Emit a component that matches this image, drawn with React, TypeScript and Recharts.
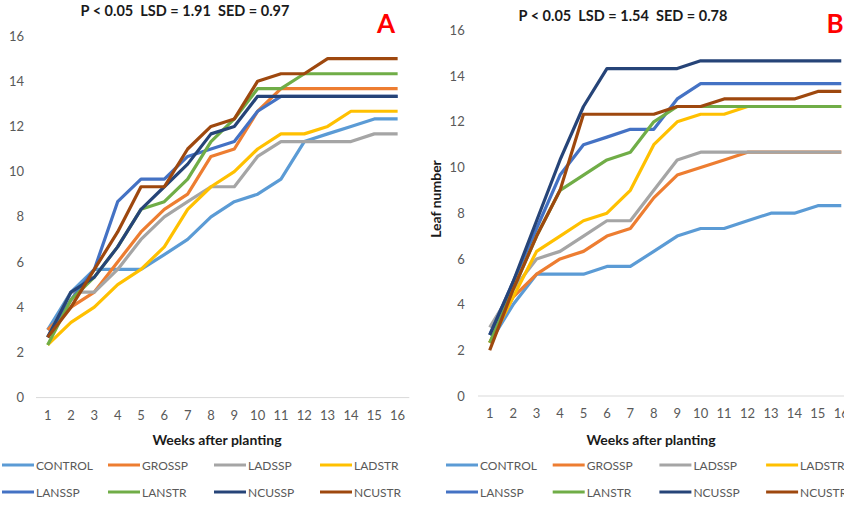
import React from 'react';
import { LineChart, Line, XAxis, YAxis } from 'recharts';

const weeks = ['1', '2', '3', '4', '5', '6', '7', '8', '9', '10', '11', '12', '13', '14', '15', '16'];
const seriesNames = ['CONTROL', 'GROSSP', 'LADSSP', 'LADSTR', 'LANSSP', 'LANSTR', 'NCUSSP', 'NCUSTR'];
const yTicks = [0, 2, 4, 6, 8, 10, 12, 14, 16];
const titleA = 'P < 0.05\u00A0\u00A0LSD = 1.91\u00A0\u00A0SED = 0.97';
const titleB = 'P < 0.05\u00A0\u00A0LSD = 1.54\u00A0\u00A0SED = 0.78';

// Chart A
const CONTROL_A = [3.0, 4.67, 5.67, 5.67, 5.67, 6.33, 7.0, 8.0, 8.67, 9.0, 9.67, 11.33, 11.67, 12.0, 12.33, 12.33];
const GROSSP_A = [3.0, 4.0, 4.67, 6.0, 7.33, 8.33, 9.0, 10.67, 11.0, 12.67, 13.67, 13.67, 13.67, 13.67, 13.67, 13.67];
const LADSSP_A = [2.67, 4.67, 4.67, 5.67, 7.0, 8.0, 8.67, 9.33, 9.33, 10.67, 11.33, 11.33, 11.33, 11.33, 11.67, 11.67];
const LADSTR_A = [2.33, 3.33, 4.0, 5.0, 5.67, 6.67, 8.33, 9.33, 10.0, 11.0, 11.67, 11.67, 12.0, 12.67, 12.67, 12.67];
const LANSSP_A = [2.67, 4.33, 5.67, 8.67, 9.67, 9.67, 10.67, 11.0, 11.33, 12.67, 13.33, 13.33, 13.33, 13.33, 13.33, 13.33];
const LANSTR_A = [2.33, 4.33, 5.33, 6.67, 8.33, 8.67, 9.67, 11.33, 12.33, 13.67, 13.67, 14.33, 14.33, 14.33, 14.33, 14.33];
const NCUSSP_A = [2.67, 4.67, 5.33, 6.67, 8.33, 9.33, 10.33, 11.67, 12.0, 13.33, 13.33, 13.33, 13.33, 13.33, 13.33, 13.33];
const NCUSTR_A = [2.67, 4.0, 5.67, 7.33, 9.33, 9.33, 11.0, 12.0, 12.33, 14.0, 14.33, 14.33, 15.0, 15.0, 15.0, 15.0];

// Chart B
const CONTROL_B = [2.33, 4.0, 5.33, 5.33, 5.33, 5.67, 5.67, 6.33, 7.0, 7.33, 7.33, 7.67, 8.0, 8.0, 8.33, 8.33];
const GROSSP_B = [2.33, 4.33, 5.33, 6.0, 6.33, 7.0, 7.33, 8.67, 9.67, 10.0, 10.33, 10.67, 10.67, 10.67, 10.67, 10.67];
const LADSSP_B = [3.0, 4.67, 6.0, 6.33, 7.0, 7.67, 7.67, 9.0, 10.33, 10.67, 10.67, 10.67, 10.67, 10.67, 10.67, 10.67];
const LADSTR_B = [2.33, 4.33, 6.33, 7.0, 7.67, 8.0, 9.0, 11.0, 12.0, 12.33, 12.33, 12.67, 12.67, 12.67, 12.67, 12.67];
const LANSSP_B = [2.67, 5.0, 7.33, 9.67, 11.0, 11.33, 11.67, 11.67, 13.0, 13.67, 13.67, 13.67, 13.67, 13.67, 13.67, 13.67];
const LANSTR_B = [2.33, 4.67, 7.0, 9.0, 9.67, 10.33, 10.67, 12.0, 12.67, 12.67, 12.67, 12.67, 12.67, 12.67, 12.67, 12.67];
const NCUSSP_B = [2.67, 5.0, 7.67, 10.33, 12.67, 14.33, 14.33, 14.33, 14.33, 14.67, 14.67, 14.67, 14.67, 14.67, 14.67, 14.67];
const NCUSTR_B = [2.0, 4.67, 7.0, 9.0, 12.33, 12.33, 12.33, 12.33, 12.67, 12.67, 13.0, 13.0, 13.0, 13.0, 13.33, 13.33];

const valuesA = [CONTROL_A, GROSSP_A, LADSSP_A, LADSTR_A, LANSSP_A, LANSTR_A, NCUSSP_A, NCUSTR_A];
const valuesB = [CONTROL_B, GROSSP_B, LADSSP_B, LADSTR_B, LANSSP_B, LANSTR_B, NCUSSP_B, NCUSTR_B];

const colors = ['#5B9BD5', '#ED7D31', '#A5A5A5', '#FFC000', '#4472C4', '#70AD47', '#264478', '#9E480E'];
const FONT = 'Lato, "Open Sans", sans-serif';

function buildRows(values: number[][]) {
  return weeks.map((w, i) => {
    const row: Record<string, any> = { week: w };
    seriesNames.forEach((n, j) => {
      row[n] = values[j][i];
    });
    return row;
  });
}

const dataA = buildRows(valuesA);
const dataB = buildRows(valuesB);

function Chart({ data, width, margin, yWidth, yMargin, pad }: any) {
  return (
    <LineChart width={width} height={507} data={data} margin={margin}>
      <XAxis
        dataKey="week"
        interval={0}
        height={30}
        padding={{ left: pad, right: pad }}
        axisLine={{ stroke: '#D9D9D9', strokeWidth: 1 }}
        tickLine={false}
        tickSize={0}
        tickMargin={13}
        tick={{ fill: '#595959', fontSize: 13, fontFamily: FONT }}
      />
      <YAxis
        domain={[0, 16]}
        ticks={yTicks}
        width={yWidth}
        axisLine={false}
        tickLine={false}
        tickSize={0}
        tickMargin={yMargin}
        tick={{ fill: '#595959', fontSize: 13, fontFamily: FONT }}
      />
      {seriesNames.map((n, j) => (
        <Line
          key={n}
          dataKey={n}
          type="linear"
          stroke={colors[j]}
          strokeWidth={3.2}
          strokeLinejoin="round"
          dot={false}
          activeDot={false}
          isAnimationActive={false}
        />
      ))}
    </LineChart>
  );
}

function Legend({ x0, step }: { x0: number; step: number }) {
  return (
    <g>
      {seriesNames.map((n, j) => {
        const col = j % 4;
        const row = Math.floor(j / 4);
        const x = x0 + col * step;
        const y = 465 + row * 27;
        return (
          <g key={n}>
            <line x1={x} x2={x + 32} y1={y} y2={y} stroke={colors[j]} strokeWidth={3} />
            <text x={x + 34} y={y + 4.5} fontSize={12} fill="#595959" fontFamily={FONT}>
              {n}
            </text>
          </g>
        );
      })}
    </g>
  );
}

export default function App() {
  return (
    <div style={{ position: 'absolute', left: 0, top: 0, width: 844, height: 507, overflow: 'hidden', background: '#fff' }}>
      <div style={{ position: 'absolute', left: 0, top: 0 }}>
        <Chart data={dataA} width={420} margin={{ top: 36, right: 10.7, bottom: 79.4, left: 0 }} yWidth={36} yMargin={12} pad={11.67} />
      </div>
      <div style={{ position: 'absolute', left: 424, top: 0 }}>
        <Chart data={dataB} width={430} margin={{ top: 30.4, right: 1, bottom: 81, left: 0 }} yWidth={54} yMargin={13.3} pad={11.72} />
      </div>
      <svg width={844} height={507} style={{ position: 'absolute', left: 0, top: 0, pointerEvents: 'none' }}>
        <text x={185} y={15.5} textAnchor="middle" fontSize={14.5} fontWeight="bold" fill="#1a1a1a" fontFamily={FONT}>
          {titleA}
        </text>
        <text x={386} y={33} textAnchor="middle" fontSize={26} fontWeight="bold" fill="#FF0000" fontFamily={FONT}>
          A
        </text>
        <text x={623} y={20.5} textAnchor="middle" fontSize={14.5} fontWeight="bold" fill="#1a1a1a" fontFamily={FONT}>
          {titleB}
        </text>
        <text x={835} y={33} textAnchor="middle" fontSize={26} fontWeight="bold" fill="#FF0000" fontFamily={FONT}>
          B
        </text>
        <text x={217} y={445} textAnchor="middle" fontSize={14} fontWeight="bold" fill="#1a1a1a" fontFamily={FONT}>
          Weeks after planting
        </text>
        <text x={651} y={445} textAnchor="middle" fontSize={14} fontWeight="bold" fill="#1a1a1a" fontFamily={FONT}>
          Weeks after planting
        </text>
        <text
          x={0}
          y={0}
          transform="translate(441,199) rotate(-90)"
          textAnchor="middle"
          fontSize={14}
          fontWeight="bold"
          fill="#1a1a1a"
          fontFamily={FONT}
        >
          Leaf number
        </text>
        <Legend x0={2} step={106} />
        <Legend x0={446} step={106.7} />
      </svg>
    </div>
  );
}
